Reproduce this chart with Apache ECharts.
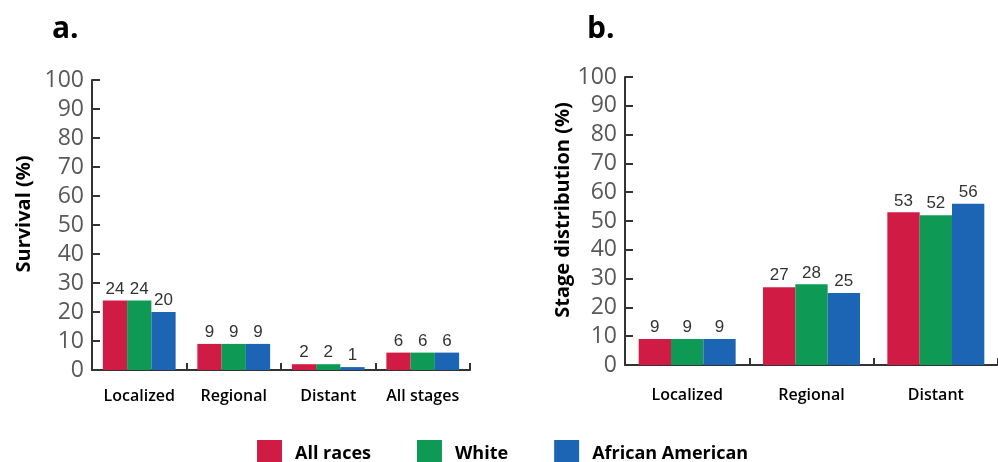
<!DOCTYPE html>
<html><head><meta charset="utf-8">
<script src="https://cdn.jsdelivr.net/npm/echarts@6/dist/echarts.min.js"></script>
<style>html,body{margin:0;padding:0;background:#fff}#c{width:998px;height:462px}</style>
</head><body><div id="c"></div>
<script>
const seriesNames = ['All races', 'White', 'African American'];
const colors = ['#D01C45', '#0E9A55', '#1C64B4'];
const catsA = ['Localized', 'Regional', 'Distant', 'All stages'];
const survivalAll = [24, 9, 2, 6];
const survivalWhite = [24, 9, 2, 6];
const survivalAA = [20, 9, 1, 6];
const catsB = ['Localized', 'Regional', 'Distant'];
const stageAll = [9, 27, 53];
const stageWhite = [9, 28, 52];
const stageAA = [9, 25, 56];
const yTicks = [0, 100, 10];

const chart = echarts.init(document.getElementById('c'));
const labelFont = {show: true, position: 'top', distance: 3, fontFamily: '"Liberation Sans",sans-serif', fontSize: 17, color: '#333'};
function yAxis(gi, name, gap) {
  return {gridIndex: gi, type: 'value', min: yTicks[0], max: yTicks[1], interval: yTicks[2],
    name: name, nameLocation: 'middle', nameGap: gap,
    nameTextStyle: {fontFamily: '"Open Sans",sans-serif', fontWeight: 'bold', fontSize: 20, color: '#000', padding: [0, 0, 0, 22]},
    axisLine: {show: true, lineStyle: {color: '#333', width: 2}},
    axisTick: {show: true, inside: true, length: 8, lineStyle: {color: '#333', width: 2}},
    axisLabel: {margin: 8, fontFamily: '"Open Sans",sans-serif', fontWeight: 'normal', fontSize: 23, color: '#595959'},
    splitLine: {show: false}};
}
function xAxis(gi, cats, margin) {
  return {gridIndex: gi, type: 'category', data: cats,
    axisLine: {show: true, lineStyle: {color: '#333', width: 2}},
    axisTick: {show: true, inside: true, length: 7, lineStyle: {color: '#333', width: 2}},
    axisLabel: {interval: 0, margin: margin, fontFamily: '"Open Sans",sans-serif', fontWeight: 600, fontSize: 16, color: '#000'}};
}
function bars(gi, name, data, color, gap) {
  return {type: 'bar', name: name, xAxisIndex: gi, yAxisIndex: gi, data: data,
    barGap: '0%', barCategoryGap: gap,
    itemStyle: {color: color}, label: labelFont};
}
chart.setOption({
  animation: false,
  backgroundColor: '#fff',
  title: [
    {text: 'a.', left: 47, top: 9, textStyle: {fontFamily: '"Open Sans",sans-serif', fontWeight: 'bold', fontSize: 30, color: '#000'}},
    {text: 'b.', left: 582, top: 9, textStyle: {fontFamily: '"Open Sans",sans-serif', fontWeight: 'bold', fontSize: 30, color: '#000'}}
  ],
  legend: {left: 252, top: 435, itemWidth: 25, itemHeight: 27, itemGap: 46,
    data: seriesNames, icon: 'rect',
    textStyle: {fontFamily: '"Open Sans",sans-serif', fontWeight: 'bold', fontSize: 18, color: '#000', padding: [0, 0, 0, 8]}},
  grid: [
    {left: 92, top: 80, width: 378, height: 290},
    {left: 625, top: 77, width: 376, height: 288}
  ],
  xAxis: [xAxis(0, catsA, 18), xAxis(1, catsB, 22)],
  yAxis: [yAxis(0, 'Survival (%)', 58), yAxis(1, 'Stage distribution (%)', 52)],
  series: [
    bars(0, seriesNames[0], survivalAll, colors[0], '23%'),
    bars(0, seriesNames[1], survivalWhite, colors[1], '23%'),
    bars(0, seriesNames[2], survivalAA, colors[2], '23%'),
    bars(1, seriesNames[0], stageAll, colors[0], '22%'),
    bars(1, seriesNames[1], stageWhite, colors[1], '22%'),
    bars(1, seriesNames[2], stageAA, colors[2], '22%')
  ]
});
</script></body></html>
